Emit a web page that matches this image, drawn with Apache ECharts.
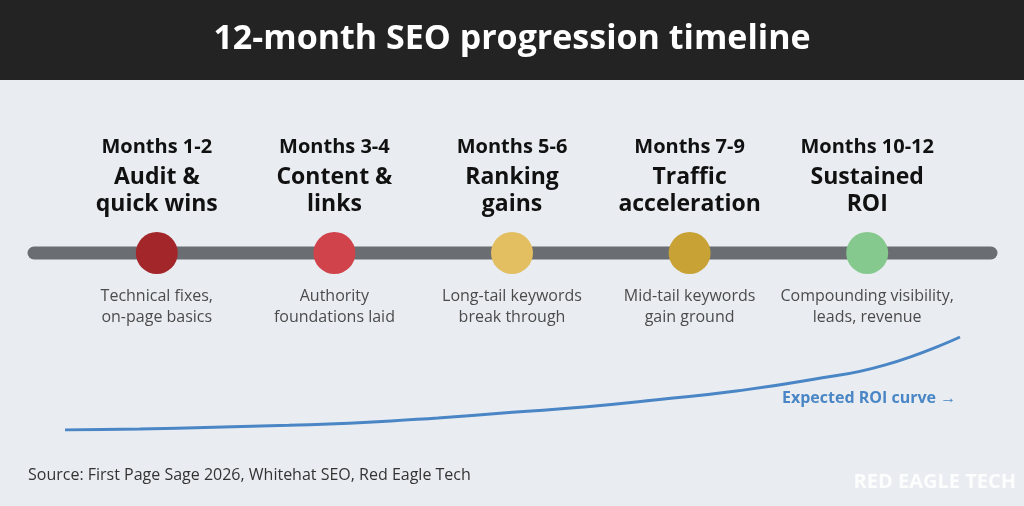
<!DOCTYPE html>
<html><head><meta charset="utf-8">
<script src="https://cdn.jsdelivr.net/npm/echarts@6/dist/echarts.min.js"></script>
<style>html,body{margin:0;padding:0;background:#e9edf1}#c{width:1024px;height:506px}</style>
</head><body><div id="c"></div>
<script>
const periods = ['Months 1-2','Months 3-4','Months 5-6','Months 7-9','Months 10-12'];
const phases = ['Audit &\nquick wins','Content &\nlinks','Ranking\ngains','Traffic\nacceleration','Sustained\nROI'];
const notes = ['Technical fixes,\non-page basics','Authority\nfoundations laid','Long-tail keywords\nbreak through','Mid-tail keywords\ngain ground','Compounding visibility,\nleads, revenue'];
const colors = ['#a3262a','#d1434b','#e3bf62','#c9a235','#86c98e'];
const roiMonths = [0,1,2,3,4,5,6,7,8,9,10,11,12];
const roiValues = [0,1,3,5,8,13,19,25,33,42,54,70,100];
const font = '"Open Sans","Noto Sans",sans-serif';
const chart = echarts.init(document.getElementById('c'));
chart.setOption({
  backgroundColor:'#e9edf1',
  title:{text:'12-month SEO progression timeline',left:'center',top:17,
    textStyle:{color:'#fff',fontSize:34,fontWeight:'bold',fontFamily:font}},
  graphic:[
    {type:'rect',z:-1,shape:{x:0,y:0,width:1024,height:80},style:{fill:'#232323'}},
    {type:'line',z:0,shape:{x1:34,y1:253,x2:991,y2:253},style:{stroke:'#6a6e72',lineWidth:13,lineCap:'round'}},
    {type:'text',left:28,top:467,style:{text:'Source: First Page Sage 2026, Whitehat SEO, Red Eagle Tech',fill:'#333',font:'16px '+font}},
    {type:'text',right:8,top:472,style:{text:'RED EAGLE TECH',fill:'#ffffff',opacity:0.85,font:'bold 20px '+font}},
    {type:'text',left:782,top:390,style:{text:'Expected ROI curve \u2192',fill:'#4a86c5',font:'bold 16px '+font}}
  ],
  grid:[
    {left:68,right:68,top:230,height:46},
    {left:65,right:64,top:337,height:93}
  ],
  xAxis:[
    {type:'category',gridIndex:0,data:periods,show:false,boundaryGap:true},
    {type:'value',gridIndex:1,min:0,max:12,show:false}
  ],
  yAxis:[
    {type:'value',gridIndex:0,min:-1,max:1,show:false},
    {type:'value',gridIndex:1,min:0,max:100,show:false}
  ],
  series:[
    {type:'scatter',xAxisIndex:0,yAxisIndex:0,symbolSize:42,z:3,
      data:periods.map((p,i)=>({value:[i,0],itemStyle:{color:colors[i],opacity:1}})),
      label:{show:true,position:'top',distance:14,color:'#111',
        formatter:p=>'{m|'+periods[p.dataIndex]+'}\n'+phases[p.dataIndex].split('\n').map(s=>'{t|'+s+'}').join('\n'),
        rich:{m:{fontSize:20,fontWeight:'bold',color:'#111',lineHeight:34,fontFamily:font,align:'center'},
              t:{fontSize:23,fontWeight:'bold',color:'#111',lineHeight:27,fontFamily:font,align:'center'}}}},
    {type:'scatter',xAxisIndex:0,yAxisIndex:0,symbolSize:42,z:2,itemStyle:{color:'rgba(0,0,0,0)'},
      data:periods.map((p,i)=>[i,0]),
      label:{show:true,position:'bottom',distance:12,formatter:p=>notes[p.dataIndex],
        fontSize:16,lineHeight:21,color:'#222',fontFamily:font,align:'center'}},
    {type:'line',xAxisIndex:1,yAxisIndex:1,smooth:true,symbol:'none',
      lineStyle:{color:'#4a86c5',width:3},
      data:roiMonths.map((m,i)=>[m,roiValues[i]])}
  ]
});
</script></body></html>
